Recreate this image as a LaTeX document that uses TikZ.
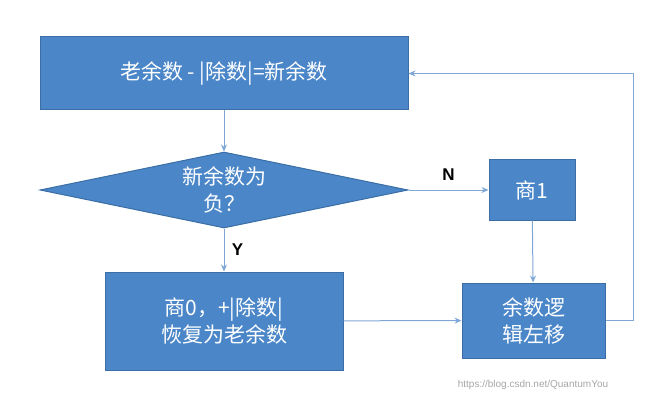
\documentclass[tikz,border=0pt]{standalone}
\usepackage{fontspec}
\setmainfont{Liberation Sans}
\newfontfamily\cjk{Noto Sans CJK SC}
\usetikzlibrary{shapes.geometric,arrows.meta}
\definecolor{boxfill}{HTML}{4A86C8}
\definecolor{boxline}{HTML}{3A6EA5}
\definecolor{conn}{HTML}{7FA7D6}
\tikzset{x=1pt,y=-1pt,
 box/.style={draw=boxline,fill=boxfill,text=white,font=\cjk\fontsize{21}{27}\selectfont,align=center,inner sep=0pt,line width=1pt},
 conn/.style={draw=conn,line width=1pt,-{Stealth[length=7pt,width=6pt]}}}
\begin{document}
\begin{tikzpicture}
\useasboundingbox (0,0) rectangle (665,404);
\node[box,minimum width=368pt,minimum height=73pt] (a) at (224,73.5) {老余数 - |除数|=新余数};
\node[box,diamond,aspect=4.84,minimum width=368pt,minimum height=76pt] (d) at (224,190) {};
\node[text=white,font=\cjk\fontsize{21}{27}\selectfont,align=center] (dt) at (224,190) {新余数为\\负？};
\node[box,minimum width=86pt,minimum height=60pt] (q1) at (532,190) {商1};
\node[box,minimum width=238pt,minimum height=98pt] (q0) at (224,321) {商0，+|除数|\\恢复为老余数};
\node[box,minimum width=143pt,minimum height=75pt] (s) at (533.5,320.5) {余数逻\\辑左移};
\coordinate (c1) at (633,320.5);
\coordinate (c2) at (633,73.5);
\draw[conn] (a) -- (d);
\draw[conn] (d.east) -- node[above=6pt,font=\bfseries\fontsize{17}{20}\selectfont,text=black]{N} (q1);
\draw[conn] (d.south) -- node[right=4pt,font=\bfseries\fontsize{17}{20}\selectfont,text=black]{Y} (q0);
\draw[conn] (q1) -- (s);
\draw[conn] (q0) -- (s);
\draw[conn] (s.east) -- (c1) -- (c2) -- (a.east);
\node[text=gray!70,font=\fontsize{10}{12}\selectfont] (w) at (533,385) {https://blog.csdn.net/QuantumYou};
\end{tikzpicture}
\end{document}
